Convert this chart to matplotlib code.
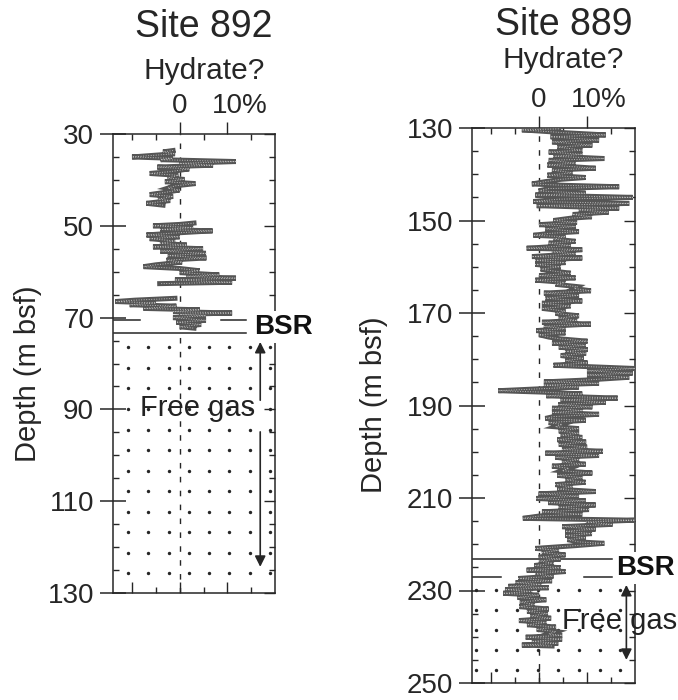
"""
Hydrate? logs vs depth at ODP Sites 892 and 889, with BSR and free-gas zone.
Writes out.png (678 x 700).
"""
import numpy as np
import matplotlib.pyplot as plt

plt.rcParams['font.family'] = ['Liberation Sans', 'DejaVu Sans']

W, H = 678, 700
INK = "#262626"
TRACE = "#555555"

# ---- Site 892 trace (depth m bsf, hydrate %), NaN = no data ----
D892 = [33.6, 33.9, 34.3, 35.0, 35.3, 35.6, 36.0, 36.4, 36.8, 37.2, 37.6, 38.2,
        38.6, 39.0, 39.6, 39.9, 40.4, 40.8, 41.3, 41.8, 42.2, 42.7, 43.2, 43.6,
        44.2, 44.5, 45.1, 45.5, np.nan,
        49.4, 49.7, 50.0, 50.4, 50.8, 51.1, 51.6, 52.0, 52.4, 52.8, 53.3, 53.8,
        54.2, 54.6, 55.0, 55.5, 56.0, 56.5, 57.0, 57.5, 57.9, 58.5, 58.9, 59.3,
        59.8, 60.2, 60.7, 61.0, 61.4, 61.8, 62.3, 62.6, np.nan,
        65.8, 66.2, 66.5, 66.8, 67.2, 67.5, 68.0, 68.3, 68.7, 69.0, 69.3, 69.6,
        70.0, 70.6, 71.0, 71.5, 72.0, 72.3]
V892 = [-1.4, -3.5, -1.0, -10.0, -1.5, -4.0, 11.8, 0.0, 7.0, -4.7, 2.0, -2.0,
        -6.3, -0.3, -2.5, 1.0, -3.1, 3.3, -1.0, -2.5, 0.0, -3.0, -6.3, -1.4,
        -4.5, -2.0, -7.0, -3.5, np.nan,
        3.0, 0.0, -5.6, 2.8, -4.1, 6.9, -1.5, -7.0, 0.0, -6.3, -1.0, -4.1,
        1.5, -5.6, 4.9, -4.1, 5.5, -2.5, 5.6, -2.8, 0.5, -5.0, -7.6, 0.0,
        4.2, 0.0, 8.3, 1.4, 11.8, -1.0, 11.0, -4.2, np.nan,
        -1.0, -9.4, -13.5, -5.0, -10.5, -0.7, -7.6, 4.2, -1.4, 11.0, 0.0, 5.5,
        -1.4, 5.5, -0.7, 4.5, 0.0, 3.0]

# ---- Site 889 trace ----
D889 = [130.2, 130.4, 131.0, 131.5, 131.9, 132.6, 133.0, 133.7, 134.1, 134.8,
        135.2, 135.7, 136.1, 136.6, 137.0, 137.6, 138.0, 138.7, 139.1, 139.7,
        140.2, 140.7, 141.1, 141.6, 142.1, 142.4, 142.7, 143.1, 143.6, 144.1,
        144.5, 145.0, 145.4, 145.9, 146.3, 146.8, 147.3, 147.7, 148.2, 148.7,
        149.2, 149.5, 150.0, 150.4, 150.9, 151.3, 151.8, 152.4, 152.8, 153.2,
        153.5, 154.0, 154.5, 154.9, 155.4, 156.0, 156.3, 156.8, 157.2, 157.8,
        158.1, 158.6, 159.1, 159.5, 160.0, 160.5, 161.0, 161.4, 161.9, 162.4,
        162.9, 163.4, 163.8, 164.3, 164.7, 165.2, 165.7, 166.2, 166.8, 167.4,
        167.9, 168.5, 169.0, 169.6, 170.1, 170.6, 171.1, 171.6, 172.0, 172.4,
        172.9, 173.4, 173.8, 174.3, 174.7, 175.2, 175.6, 176.1, 176.5, 177.0,
        177.4, 177.9, 178.3, 178.7, 179.2, 179.8, 180.3, 180.8, 181.3, 182.0,
        182.5, 183.0, 183.4, 183.9, 184.5, 184.9, 185.2, 185.6, 186.0, 186.4,
        186.8, 187.1, 187.5, 187.9, 188.4, 188.8, 189.3, 189.8, 190.3, 190.6,
        191.1, 191.5, 191.9, 192.4, 192.8, 193.2, 193.7, 194.1, 194.6, 195.0,
        195.5, 196.0, 196.4, 196.9, 197.4, 197.9, 198.4, 199.0, 199.5, 199.9,
        200.3, 200.8, 201.2, 201.7, 202.2, 202.7, 203.1, 203.6, 204.1, 204.6,
        205.1, 205.6, 206.1, 206.6, 207.1, 207.6, 208.1, 208.6, 209.1, 209.6,
        210.1, 210.6, 211.0, 211.5, 212.0, 212.5, 213.0, 213.5, 213.9, 214.4,
        214.8, 215.2, 215.7, 216.2, 216.7, 217.2, 217.7, 218.1, 218.6, 219.0,
        219.5, 219.8, 220.3, 220.9, 221.3, 221.8, 222.3, 222.8, 223.2, 223.6,
        224.1, 224.6, 225.1, 225.6, 225.9, 226.4, 226.9, 227.4, 227.9, 228.3,
        228.7, 229.1, 229.4, 229.8, 230.2, 230.6, 231.0, 231.5, 232.0, 232.5,
        233.0, 233.5, 234.0, 234.5, 235.0, 235.5, 236.0, 236.5, 236.9, 237.4,
        237.9, 238.4, 238.9, 239.4, 239.7, 240.1, 240.5, 241.0, 241.4, 241.8,
        242.0]
V889 = [4.1, -3.6, 5.0, 13.9, 2.4, 12.5, 2.7, 11.1, 3.8, 9.0,
        2.0, 9.0, 3.0, 13.6, 2.0, 7.6, 1.7, 11.8, 2.7, 7.0,
        1.7, 9.7, 4.5, 1.3, -1.5, 5.5, 16.7, 2.0, -0.1, 9.7,
        -0.8, 19.5, 4.0, -1.2, 18.8, -0.5, 16.7, 8.3, 14.5, 7.0,
        11.0, 6.6, 3.0, 7.9, 0.0, 7.6, 1.3, 8.3, 2.0, -1.2,
        5.5, 3.0, 7.6, 2.0, 6.6, -2.6, 9.0, 2.7, 7.6, -1.5,
        9.0, -0.8, 5.5, -0.8, 4.5, 0.3, 3.5, 6.6, 0.0, 7.6,
        -0.8, 5.5, 3.4, 8.0, 7.3, 10.8, 1.0, 8.3, 1.3, 9.0,
        0.6, 6.6, 0.6, 5.5, 3.4, 8.3, 4.1, 7.9, 0.6, 10.8,
        1.0, 5.5, -0.6, 5.5, 0.0, 2.0, 4.5, 10.1, 2.7, 9.7,
        4.1, 10.1, 5.5, 9.8, 4.5, 9.3, 5.5, 10.1, 3.0, 20.0,
        10.0, 19.5, 10.0, 18.8, 9.7, 1.0, 12.5, 1.0, 8.3, 0.0,
        -8.5, 0.6, 9.0, 1.5, 16.4, 4.5, 13.9, 4.0, 11.1, 2.7,
        9.0, 2.7, 12.5, 3.0, 1.3, 9.7, 2.0, 4.8, 3.4, 8.3,
        4.1, 8.3, 4.5, 9.0, 3.8, 9.8, 4.1, 10.0, 4.8, 13.3,
        1.3, 12.5, 3.4, 8.3, 4.8, 9.7, 2.7, 6.2, 4.8, 11.1,
        3.8, 9.0, 5.5, 9.7, 3.4, 6.9, 3.8, 11.8, -0.1, 8.3,
        -0.6, 9.7, 1.9, 11.8, 4.1, 10.4, 0.6, 9.0, 0.0, -3.4,
        20.0, 9.8, 15.3, 4.8, 11.8, 5.5, 11.0, 5.5, 9.7, 5.9,
        8.3, 13.6, 7.6, -0.8, 4.1, 0.6, 5.5, -0.1, 4.5, 0.0,
        3.0, -1.0, 4.5, -2.6, 5.5, -0.8, 3.0, -4.3, 2.7, -4.9,
        0.5, -6.4, 2.0, -7.1, -1.5, -7.5, 0.0, -4.5, 1.5, -4.0,
        -1.0, -4.1, 2.0, -2.5, 1.8, -1.8, 2.5, -4.2, 1.5, -2.5,
        3.5, -0.5, 3.5, 2.0, 4.8, -2.8, 4.8, -1.5, 4.0, -3.6,
        2.7]

XLIM = (-14, 20)
SITES = [
    # axes rect in px: left, top, right, bottom
    dict(name="Site 892", d=D892, v=V892, ylim=(130, 30), major=np.arange(30, 131, 20),
         rect=(113, 134, 275, 593), title_y=37, hyd_y=79, ylab=(28, 374),
         bsr=70.6, bsr_segs=[(-13.8, -8.3), (8.75, 14.0)],
         gas_top=73.4, gas_segs=[(-13.8, 14.0)], bsr_txt=(15.6, 72.0),
         dots_x=(-10.8, 4.25, 8), dots_y=(76.5, 4.47, 12),
         arrows=[(16.9, 88.0, 75.3), (16.9, 94.9, 124.3)],
         gas_txt=(3.8, 89.6), gas_ha='center'),
    dict(name="Site 889", d=D889, v=V889, ylim=(250, 130), major=np.arange(130, 251, 20),
         rect=(472, 128, 635, 683), title_y=35, hyd_y=68, ylab=(374, 405),
         bsr=223.2, bsr_segs=[(-13.8, 15.2)],
         gas_top=227.0, gas_segs=[(-13.8, -7.9), (9.4, 15.2)], bsr_txt=(16.1, 225.1),
         dots_x=(-13.2, 4.3, 8), dots_y=(229.9, 4.33, 5),
         arrows=[(18.2, 228.8, 245.0, True)],
         gas_txt=(4.7, 236.6), gas_ha='left'),
]

fig = plt.figure(figsize=(W / 100, H / 100), dpi=100)

for s in SITES:
    l, t, r, b = s["rect"]
    ax = fig.add_axes([l / W, 1 - b / H, (r - l) / W, (b - t) / H])
    ax.set_xlim(*XLIM)
    ax.set_ylim(*s["ylim"])
    for sp in ax.spines.values():
        sp.set_linewidth(1.1)
        sp.set_color(INK)

    # free-gas stipple (texture)
    x0, dx, nx = s["dots_x"]
    y0, dy, ny = s["dots_y"]
    gx, gy = np.meshgrid(x0 + dx * np.arange(nx), y0 + dy * np.arange(ny))
    ax.scatter(gx.ravel(), gy.ravel(), s=6, color=INK, lw=0, zorder=1)

    ax.axvline(0, color=INK, lw=1.0, ls=(0, (4, 6)), zorder=1)
    # thick grey trace with a light dotted overlay to mimic the screened print
    ax.plot(s["v"], s["d"], color=TRACE, lw=3.6, solid_joinstyle='miter', zorder=3)
    ax.plot(s["v"], s["d"], color="#bdbdbd", lw=0.7, ls=(0, (1, 1.6)), zorder=3.5)

    # BSR and top of free gas
    for a, c in s["bsr_segs"]:
        ax.plot([a, c], [s["bsr"], s["bsr"]], color=INK, lw=1.1, zorder=2, clip_on=False)
    for a, c in s["gas_segs"]:
        ax.plot([a, c], [s["gas_top"], s["gas_top"]], color=INK, lw=1.1, zorder=2)
    ax.text(*s["bsr_txt"], "BSR", fontsize=20, fontweight='bold', ha='left', va='center',
            color="#111111", zorder=6, clip_on=False,
            bbox=dict(facecolor='white', edgecolor='none', pad=2))

    for arr in s["arrows"]:
        x, d_from, d_to = arr[:3]
        style = '<|-|>' if len(arr) > 3 else '-|>'
        ax.annotate("", xy=(x, d_to), xytext=(x, d_from),
                    arrowprops=dict(arrowstyle=style, color=INK, lw=1.2,
                                    mutation_scale=16, shrinkA=0, shrinkB=0),
                    zorder=5, annotation_clip=False)
    ax.text(*s["gas_txt"], "Free gas", fontsize=21, ha=s["gas_ha"], va='center',
            color="#222222", zorder=6, clip_on=False)

    # left axis: depth labels
    ax.set_yticks(s["major"])
    ax.set_yticks(np.arange(s["ylim"][1], s["ylim"][0] + 1, 5), minor=True)
    ax.tick_params(axis='y', which='major', direction='inout', length=19, width=1.1,
                   labelsize=20, pad=4, colors=INK, right=False)
    ax.tick_params(axis='y', which='minor', direction='in', length=4.5, width=1.0,
                   colors=INK, right=False)
    # right spine ticks
    ry = ax.secondary_yaxis('right')
    ry.set_yticks(s["major"])
    ry.set_yticks(np.arange(s["ylim"][1], s["ylim"][0] + 1, 5), minor=True)
    ry.tick_params(which='major', direction='in', length=8, width=1.0, labelright=False, colors=INK)
    ry.tick_params(which='minor', direction='in', length=4.5, width=1.0, colors=INK)
    ry.spines['right'].set_visible(False)

    # bottom ticks
    ax.set_xticks([-10, 0, 10])
    ax.set_xticks([-5, 5, 15], minor=True)
    ax.tick_params(axis='x', which='major', direction='in', length=8, width=1.0,
                   labelbottom=False, colors=INK)
    ax.tick_params(axis='x', which='minor', direction='in', length=4.5, width=1.0, colors=INK)
    # top ticks
    tx = ax.secondary_xaxis('top')
    tx.set_xticks([0, 10])
    tx.set_xticks([-10, -5, 5, 15], minor=True)
    tx.tick_params(which='major', direction='out', length=9, width=1.0, labeltop=False, colors=INK)
    tx.tick_params(which='minor', direction='in', length=4.5, width=1.0, colors=INK)
    tx.spines['top'].set_visible(False)

    # top labels
    ax.annotate("0", xy=(0, 1), xycoords=('data', 'axes fraction'), xytext=(0, 15),
                textcoords='offset points', ha='center', va='baseline', fontsize=20,
                color=INK, annotation_clip=False)
    ax.annotate("10%", xy=(10, 1), xycoords=('data', 'axes fraction'), xytext=(-11.4, 15),
                textcoords='offset points', ha='left', va='baseline', fontsize=20,
                color=INK, annotation_clip=False)

    cx = (l + r) / 2 + 10
    fig.text(cx / W, 1 - s["hyd_y"] / H, "Hydrate?", fontsize=21.5, ha='center',
             va='baseline', color=INK)
    fig.text(cx / W, 1 - s["title_y"] / H, s["name"], fontsize=27, ha='center',
             va='baseline', color=INK)
    fig.text(s["ylab"][0] / W, 1 - s["ylab"][1] / H, "Depth (m bsf)", fontsize=21,
             rotation=90, ha='center', va='center', color=INK)

fig.savefig("out.png", dpi=100)
